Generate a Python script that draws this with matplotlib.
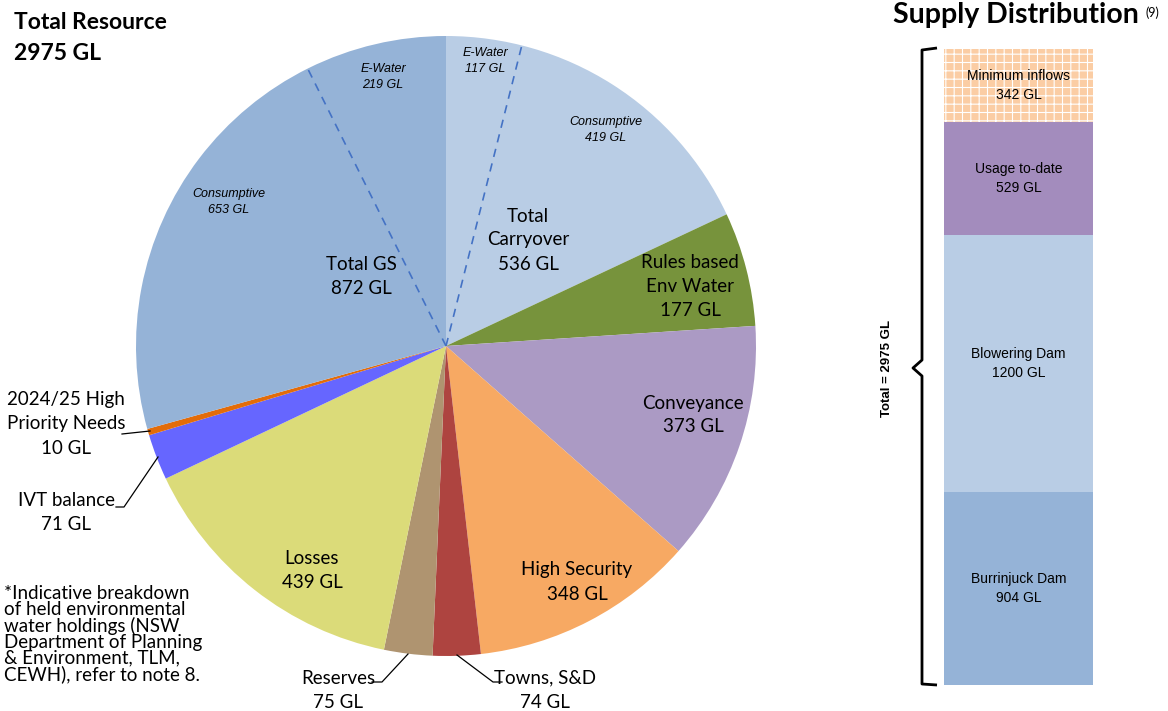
import numpy as np
import matplotlib
matplotlib.use("Agg")
import matplotlib.pyplot as plt
from matplotlib.path import Path
from matplotlib.patches import PathPatch

# pie data (clockwise from 12 o'clock)
names = ["Total\nCarryover", "Rules based\nEnv Water", "Conveyance", "High Security", "Towns, S&D",
         "Reserves", "Losses", "IVT balance", "2024/25 High\nPriority Needs", "Total GS"]
values = [536, 177, 373, 348, 74, 75, 439, 71, 10, 872]
colors = ["#b9cde5", "#77933c", "#ab9ac4", "#f7a963", "#ae4440",
          "#af9470", "#dbdb79", "#6666ff", "#e36c09", "#95b3d7"]
total = sum(values)

# held environmental water split
carry_ewater, carry_cons = 117, 419
gs_ewater, gs_cons = 219, 653

# supply distribution (bottom to top)
supply_names = ["Burrinjuck Dam", "Blowering Dam", "Usage to-date", "Minimum inflows"]
supply_values = [904, 1200, 529, 342]
supply_colors = ["#95b3d7", "#b9cde5", "#a38cbd", "#fbcda4"]

calibri = ["Lato", "DejaVu Sans"]
arial = ["Liberation Sans", "DejaVu Sans"]

fig = plt.figure(figsize=(11.68, 7.11), dpi=100)
ax = fig.add_axes([0, 0, 1, 1])

cx, cy, R = 446, 365, 310
wedges, _ = ax.pie(values, colors=colors, startangle=90, counterclock=False,
                   center=(cx, cy), radius=R, wedgeprops=dict(linewidth=0))
ax.set_xlim(0, 1168)
ax.set_ylim(0, 711)
ax.set_aspect("auto")
ax.axis("off")

# dashed split lines for e-water
for ang in [90 - carry_ewater / total * 360, 90 + gs_ewater / total * 360]:
    a = np.radians(ang)
    ax.plot([cx, cx + R * np.cos(a)], [cy, cy + R * np.sin(a)],
            color="#4472c4", ls=(0, (5, 4)), lw=1.2)

def T(x, y, s, **kw):
    kw.setdefault("family", calibri)
    kw.setdefault("fontsize", 13.5)
    kw.setdefault("ha", "center")
    kw.setdefault("va", "center")
    kw.setdefault("linespacing", 1.5)
    ax.text(x, 711 - y, s, **kw)

# main slice labels
T(528, 240, names[0] + "\n%d GL" % values[0])
T(690, 286, names[1] + "\n%d GL" % values[1])
T(693, 415, names[2] + "\n%d GL" % values[2])
T(577, 582, names[3] + "\n%d GL" % values[3])
T(312, 570, names[6] + "\n%d GL" % values[6])
T(361, 276, names[9] + "\n%d GL" % values[9])

# e-water sublabels
it = dict(family=arial, fontsize=9, style="italic", linespacing=1.45)
T(383, 77, "E-Water\n%d GL" % gs_ewater, **it)
T(229, 202, "Consumptive\n%d GL" % gs_cons, **it)
T(485, 61, "E-Water\n%d GL" % carry_ewater, **it)
T(606, 130, "Consumptive\n%d GL" % carry_cons, **it)

# outside labels with leaders
T(66, 424, names[8] + "\n%d GL" % values[8])
T(66, 512, names[7] + "\n%d GL" % values[7])
T(338, 690, names[5] + "\n%d GL" % values[5])
T(545, 690, names[4] + "\n%d GL" % values[4])

def leader(pts):
    xs = [p[0] for p in pts]
    ys = [711 - p[1] for p in pts]
    ax.plot(xs, ys, color="black", lw=0.9)

leader([(122, 434), (150, 431)])
leader([(116, 507), (124, 507), (158, 457)])
leader([(372, 682), (382, 682), (408, 654)])
leader([(457, 655), (493, 682), (502, 682)])

# titles and note
T(14, 38, "Total Resource\n2975 GL", ha="left", fontsize=16.5, weight="bold", linespacing=1.6)
T(4, 634, "*Indicative breakdown\nof held environmental\nwater holdings (NSW\nDepartment of Planning\n& Environment, TLM,\nCEWH), refer to note 8.",
  ha="left", fontsize=13.5, linespacing=0.93)
T(893, 15, "Supply Distribution", ha="left", fontsize=20.5, weight="bold")
T(1146, 13, "(9)", ha="left", fontsize=9)

# bracket
brace = Path([(937, 48), (922, 50), (922, 360), (913, 368), (922, 376), (922, 684), (937, 685)])
brace = Path([(x, 711 - y) for x, y in brace.vertices])
ax.add_patch(PathPatch(brace, fill=False, lw=2, color="black", joinstyle="round"))
T(887, 368, "Total = 2975 GL", family=arial, fontsize=9.5, weight="bold", rotation=90)

# stacked supply bar
bx = fig.add_axes([944 / 1168, 1 - 685 / 711, 149 / 1168, 636 / 711])
bottoms = np.concatenate([[0], np.cumsum(supply_values)[:-1]])
plt.rcParams["hatch.linewidth"] = 0.8
for i, (n, v, b, c) in enumerate(zip(supply_names, supply_values, bottoms, supply_colors)):
    if i == 3:
        bx.bar(0, v, bottom=b, width=1, color=c, edgecolor="white", lw=0, hatch="++")
    else:
        bx.bar(0, v, bottom=b, width=1, color=c, lw=0)
    bx.text(0, b + v / 2, "%s\n%d GL" % (n, v), ha="center", va="center",
            family=arial, fontsize=10, linespacing=1.45)
bx.set_xlim(-0.5, 0.5)
bx.set_ylim(0, total)
bx.axis("off")

fig.savefig("out.png", dpi=100)
